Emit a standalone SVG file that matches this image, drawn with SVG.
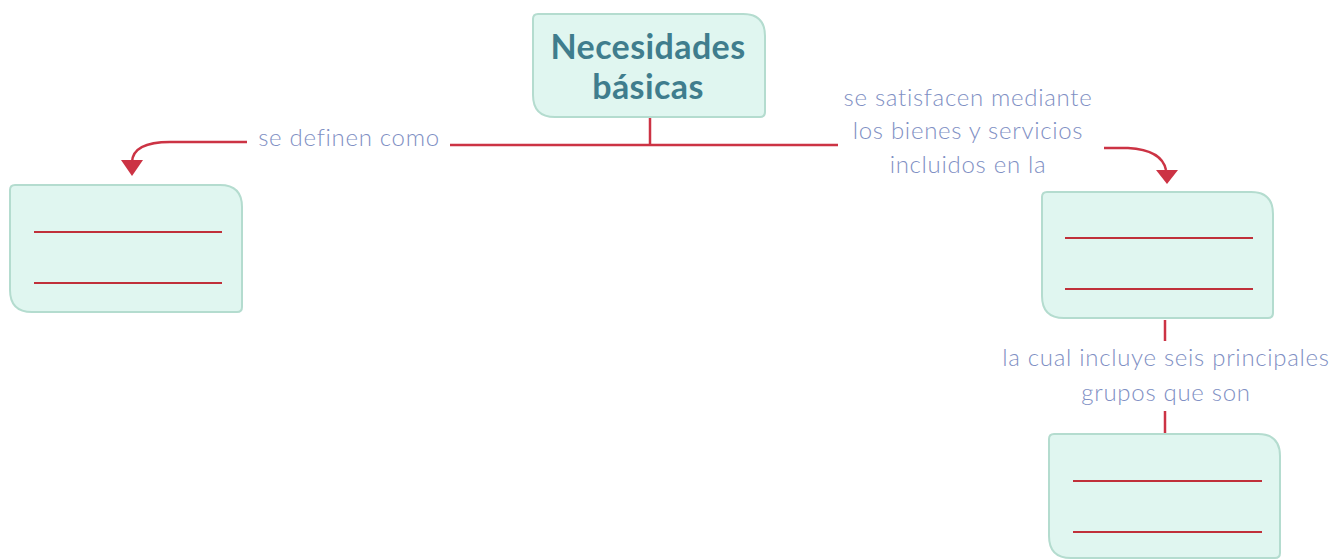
<svg xmlns="http://www.w3.org/2000/svg" width="1332" height="559" viewBox="0 0 1332 559">
<style>
.box{fill:#e0f6f0;stroke:#b4dccf;stroke-width:2}
.blank{stroke:#c0303a;stroke-width:2}
.con{fill:none;stroke:#cc3344;stroke-width:2.5}
.lbl{font-family:"Lato","Noto Sans",sans-serif;font-weight:300;font-size:24px;letter-spacing:0.7px;fill:#7f90c4;text-anchor:middle}
.title{font-family:"Lato","Noto Sans",sans-serif;font-weight:700;font-size:34px;letter-spacing:0.4px;fill:#3f7d8d;text-anchor:middle}
</style>
<rect width="1332" height="559" fill="#ffffff"/>
<g id="connectors">
<path class="con" d="M650,118 V145"/>
<path class="con" d="M450,145 H838"/>
<path class="con" d="M247,142 H170 Q133,142 132,162"/>
<path class="con" d="M1104,148 H1128 Q1162,150 1166,170"/>
<path class="con" d="M1165,320 V341"/>
<path class="con" d="M1165,411 V434"/>
<path d="M121,160 L143,160 L132,176 Z" fill="#cc3344"/>
<path d="M1156,170 L1178,170 L1167,184 Z" fill="#cc3344"/>
<text class="lbl" x="349" y="146">se definen como</text>
<text class="lbl" x="968" y="106">se satisfacen mediante</text>
<text class="lbl" x="968" y="139">los bienes y servicios</text>
<text class="lbl" x="968" y="173">incluidos en la</text>
<text class="lbl" x="1166" y="366">la cual incluye seis principales</text>
<text class="lbl" x="1166" y="401">grupos que son</text>
</g>
<g id="node-necesidades">
<path class="box" d="M538,14 H743 Q765,14 765,36 V112 Q765,117 760,117 H555 Q533,117 533,95 V19 Q533,14 538,14 Z"/>
<text class="title" x="648" y="59">Necesidades</text>
<text class="title" x="648" y="99">básicas</text>
</g>
<g id="node-left">
<path class="box" d="M15,185 H220 Q242,185 242,207 V307 Q242,312 237,312 H32 Q10,312 10,290 V190 Q10,185 15,185 Z"/>
<line class="blank" x1="34" y1="232" x2="222" y2="232"/>
<line class="blank" x1="34" y1="283" x2="222" y2="283"/>
</g>
<g id="node-right">
<path class="box" d="M1047,192 H1251 Q1273,192 1273,214 V313 Q1273,318 1268,318 H1064 Q1042,318 1042,296 V197 Q1042,192 1047,192 Z"/>
<line class="blank" x1="1065" y1="238" x2="1253" y2="238"/>
<line class="blank" x1="1065" y1="289" x2="1253" y2="289"/>
</g>
<g id="node-bottom">
<path class="box" d="M1054,434 H1258 Q1280,434 1280,456 V553 Q1280,558 1275,558 H1071 Q1049,558 1049,536 V439 Q1049,434 1054,434 Z"/>
<line class="blank" x1="1073" y1="481" x2="1262" y2="481"/>
<line class="blank" x1="1073" y1="532" x2="1262" y2="532"/>
</g>
</svg>
